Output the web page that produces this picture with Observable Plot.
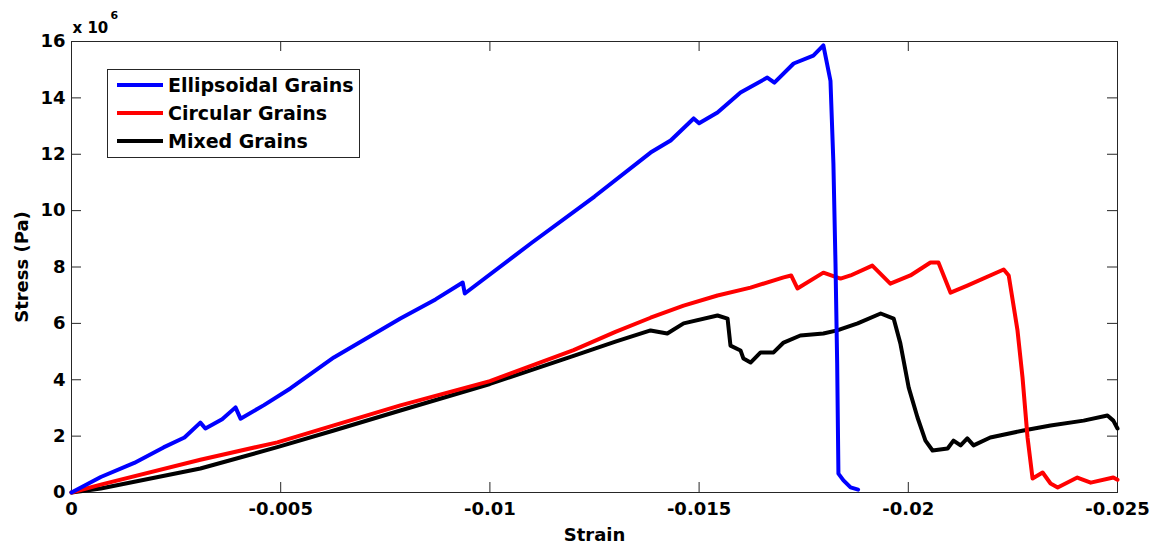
<!DOCTYPE html>
<html>
<head>
<meta charset="utf-8">
<script src="https://cdn.jsdelivr.net/npm/d3@7"></script>
<script src="https://cdn.jsdelivr.net/npm/@observablehq/plot@0.6"></script>
<style>
  html, body { margin: 0; padding: 0; background: #fff; }
  #chart { position: relative; width: 1158px; height: 548px; }
</style>
</head>
<body>
<div id="chart"></div>
<script>
// Series: strain (negative, compressive) and stress in units of 10^6 Pa
const seriesNames = ["Ellipsoidal Grains", "Circular Grains", "Mixed Grains"];
const seriesColors = ["#0000ff", "#ff0000", "#000000"];

const ellipsoidalStrain = [0, -0.0007, -0.0015, -0.0022, -0.0027, -0.00308, -0.0032, -0.0036, -0.00392, -0.00404, -0.0046, -0.00523, -0.00627, -0.00786, -0.0087, -0.00935, -0.0094, -0.0110, -0.0125, -0.01384, -0.01432, -0.01487, -0.0150, -0.01544, -0.01599, -0.01663, -0.0168, -0.01726, -0.01773, -0.01797, -0.01814, -0.01821, -0.01826, -0.0183, -0.01833, -0.01845, -0.01862, -0.0188];
const ellipsoidalStress = [0, 0.55, 1.05, 1.6, 1.95, 2.48, 2.27, 2.6, 3.02, 2.62, 3.1, 3.69, 4.79, 6.17, 6.85, 7.45, 7.06, 8.86, 10.5, 12.06, 12.49, 13.27, 13.1, 13.48, 14.19, 14.72, 14.54, 15.22, 15.5, 15.86, 14.6, 11.67, 8.12, 4.58, 0.67, 0.43, 0.18, 0.1];

const circularStrain = [0, -0.0007, -0.00308, -0.00492, -0.00627, -0.00786, -0.01, -0.012, -0.013, -0.01384, -0.01463, -0.01544, -0.01623, -0.01702, -0.0172, -0.01735, -0.01797, -0.01838, -0.01862, -0.01914, -0.01957, -0.02005, -0.02053, -0.02072, -0.02101, -0.02141, -0.02228, -0.0224, -0.02261, -0.02273, -0.02285, -0.02297, -0.02321, -0.0234, -0.02357, -0.02404, -0.02436, -0.0249, -0.025];
const circularStress = [0, 0.28, 1.16, 1.78, 2.38, 3.09, 3.95, 5.05, 5.7, 6.2, 6.63, 6.99, 7.27, 7.63, 7.7, 7.24, 7.8, 7.59, 7.7, 8.05, 7.41, 7.7, 8.16, 8.16, 7.09, 7.34, 7.91, 7.7, 5.75, 4.08, 1.95, 0.5, 0.71, 0.32, 0.18, 0.53, 0.35, 0.53, 0.45];

const mixedStrain = [0, -0.0007, -0.00308, -0.00492, -0.00627, -0.00786, -0.01, -0.012, -0.013, -0.01384, -0.01424, -0.01463, -0.01544, -0.01568, -0.01575, -0.01599, -0.01606, -0.01623, -0.01647, -0.01678, -0.01702, -0.01742, -0.01797, -0.0183, -0.01879, -0.01934, -0.01965, -0.01981, -0.02001, -0.02022, -0.02041, -0.02058, -0.02094, -0.02108, -0.02125, -0.02141, -0.02156, -0.02196, -0.02275, -0.0234, -0.02419, -0.02476, -0.0249, -0.025];
const mixedStress = [0, 0.14, 0.85, 1.61, 2.2, 2.91, 3.85, 4.85, 5.35, 5.75, 5.64, 6.0, 6.28, 6.17, 5.21, 5.04, 4.75, 4.61, 4.97, 4.97, 5.32, 5.57, 5.64, 5.75, 6.0, 6.35, 6.17, 5.29, 3.72, 2.66, 1.84, 1.49, 1.56, 1.84, 1.67, 1.92, 1.67, 1.95, 2.2, 2.38, 2.55, 2.73, 2.55, 2.27];

const xTicks = [0, -0.005, -0.01, -0.015, -0.02, -0.025];
const xTickLabels = ["0", "-0.005", "-0.01", "-0.015", "-0.02", "-0.025"];
const yTicks = [0, 2, 4, 6, 8, 10, 12, 14, 16];

const toRows = (name, xs, ys) => xs.map((x, i) => ({series: name, strain: x, stress: ys[i]}));
const ellipsoidal = toRows(seriesNames[0], ellipsoidalStrain, ellipsoidalStress);
const circular = toRows(seriesNames[1], circularStrain, circularStress);
const mixed = toRows(seriesNames[2], mixedStrain, mixedStress);

const W = 1158, H = 548;
const mL = 71, mR = 41, mT = 41, mB = 56;
const plotW = W - mL - mR, plotH = H - mT - mB;
const tickLen = 10;
const axisColor = "#262626";

const chart = Plot.plot({
  width: W,
  height: H,
  marginLeft: mL, marginRight: mR, marginTop: mT, marginBottom: mB,
  style: {fontFamily: "'DejaVu Sans', sans-serif", fontWeight: "bold", fontSize: "18px", background: "#fff", color: "#000"},
  x: {domain: [0, -0.025], ticks: xTicks, tickFormat: (d) => xTickLabels[xTicks.indexOf(d)] ?? "", label: null, tickSize: 0, tickPadding: 10},
  y: {domain: [0, 16], ticks: yTicks, tickFormat: (d) => String(d), label: null, tickSize: 0, tickPadding: 6},
  color: {domain: seriesNames, range: seriesColors},
  marks: [
    Plot.frame({stroke: axisColor, strokeWidth: 1}),
    // inward ticks: bottom/top
    Plot.tickX(xTicks, {x: d => d, stroke: axisColor, insetTop: plotH - tickLen}),
    Plot.tickX(xTicks, {x: d => d, stroke: axisColor, insetBottom: plotH - tickLen}),
    // inward ticks: left/right
    Plot.tickY(yTicks, {y: d => d, stroke: axisColor, insetRight: plotW - tickLen}),
    Plot.tickY(yTicks, {y: d => d, stroke: axisColor, insetLeft: plotW - tickLen}),
    Plot.line(mixed, {x: "strain", y: "stress", stroke: "series", strokeWidth: 4, strokeLinejoin: "round", strokeLinecap: "round"}),
    Plot.line(circular, {x: "strain", y: "stress", stroke: "series", strokeWidth: 4, strokeLinejoin: "round", strokeLinecap: "round"}),
    Plot.line(ellipsoidal, {x: "strain", y: "stress", stroke: "series", strokeWidth: 4, strokeLinejoin: "round", strokeLinecap: "round"}),
    Plot.text(["Strain"], {frameAnchor: "bottom", dy: 48, fontSize: 18, fontWeight: "bold", fill: "#000"}),
    Plot.text(["Stress (Pa)"], {frameAnchor: "left", textAnchor: "middle", dx: -49, rotate: -90, fontSize: 18, fontWeight: "bold", fill: "#000"}),
    Plot.text(["x 10"], {frameAnchor: "top-left", textAnchor: "start", dx: 1, dy: -19, fontSize: 15, fontWeight: "bold", fill: "#000"}),
    Plot.text(["6"], {frameAnchor: "top-left", textAnchor: "start", dx: 39, dy: -30, fontSize: 11, fontWeight: "bold", fill: "#000"})
  ]
});

// Legend box (MATLAB style, inside the axes)
const svg = d3.select(chart);
const lg = svg.append("g").attr("class", "legend").attr("text-anchor", "start");
const lx = 107, ly = 69, lw = 252, lh = 88;
lg.append("rect").attr("x", lx + 0.5).attr("y", ly + 0.5).attr("width", lw).attr("height", lh)
  .attr("fill", "#fff").attr("stroke", axisColor).attr("stroke-width", 1);
seriesNames.forEach((name, i) => {
  const yy = ly + 16 + i * 28;
  lg.append("line").attr("x1", lx + 10).attr("x2", lx + 56).attr("y1", yy).attr("y2", yy)
    .attr("stroke", seriesColors[i]).attr("stroke-width", 4);
  lg.append("text").attr("x", lx + 61).attr("y", yy).attr("dy", "0.36em")
    .attr("text-anchor", "start")
    .attr("font-family", "'DejaVu Sans', sans-serif").attr("font-weight", "bold").attr("font-size", 19)
    .attr("fill", "#000").text(name);
});

document.getElementById("chart").appendChild(chart);
</script>
</body>
</html>
